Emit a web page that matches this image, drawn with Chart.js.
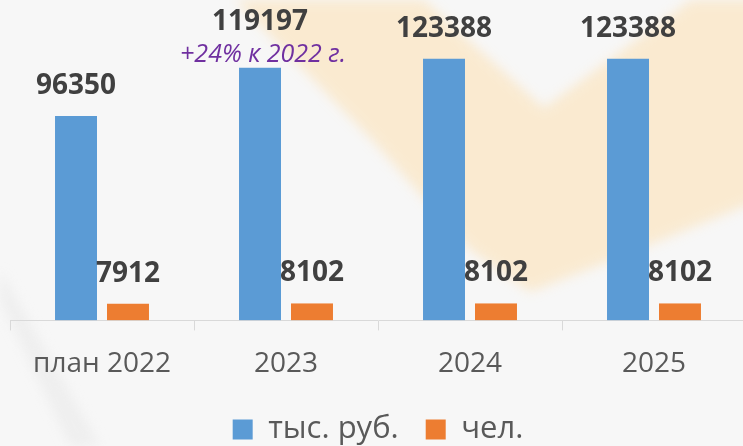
<!DOCTYPE html>
<html>
<head>
<meta charset="utf-8">
<script src="https://cdn.jsdelivr.net/npm/chart.js@4/dist/chart.umd.min.js"></script>
<style>
  html, body { margin: 0; padding: 0; overflow: hidden; }
  body { width: 743px; height: 446px; background: #f7f7f7; position: relative; }
  #bg { position: absolute; left: 0; top: 0; }
  #wrap { position: absolute; left: 0; top: 0; width: 746px; height: 446px; }
</style>
</head>
<body>
<!-- faint watermark behind the chart -->
<svg id="bg" width="743" height="446">
  <defs>
    <filter id="soft"><feGaussianBlur stdDeviation="6"/></filter>
  </defs>
  <polygon points="235,0 424,0 544,108 691,0 760,0 760,200 600,265 530,292 470,250 372,140" fill="#fbe6c4" opacity="0.75" filter="url(#soft)"/>
  <polygon points="0,270 0,300 70,446 100,446" fill="#e9e9e9" opacity="0.6" filter="url(#soft)"/>
</svg>
<div id="wrap"><canvas id="chart"></canvas></div>
<script>
var categories = ['план 2022', '2023', '2024', '2025'];
var rubValues = [96350, 119197, 123388, 123388];
var peopleValues = [7912, 8102, 8102, 8102];
var seriesNames = ['тыс. руб.', 'чел.'];
var note2023 = '+24% к 2022 г.';

var valueLabels = {
    id: 'valueLabels',
    afterDatasetsDraw: function(chart) {
        var ctx = chart.ctx;
        ctx.save();
        ctx.textAlign = 'center';
        ctx.textBaseline = 'middle';
        chart.data.datasets.forEach(function(ds, di) {
            var meta = chart.getDatasetMeta(di);
            meta.data.forEach(function(bar, i) {
                var lift = 30;
                if (di === 0 && i === 1) {
                    // growth note sits between the bar and its value
                    ctx.font = 'italic 25px "Open Sans"';
                    ctx.fillStyle = '#7030a0';
                    ctx.fillText(note2023, bar.x + 3, bar.y - 13);
                    lift = 45;
                }
                ctx.font = 'bold 28px "Open Sans"';
                ctx.fillStyle = '#404040';
                ctx.fillText(ds.data[i], bar.x, bar.y - lift);
            });
        });
        ctx.restore();
    }
};

var ctx = document.getElementById('chart').getContext('2d');
var chart = new Chart(ctx, {
    type: 'bar',
    data: {
        labels: categories,
        datasets: [{
            label: seriesNames[0],
            data: rubValues,
            backgroundColor: '#5b9bd5',
            borderColor: 'rgba(0,0,0,0)',
            borderWidth: {left: 5, right: 5, top: 0, bottom: 0},
            borderSkipped: false
        }, {
            label: seriesNames[1],
            data: peopleValues,
            backgroundColor: '#ed7d31',
            borderColor: 'rgba(0,0,0,0)',
            borderWidth: {left: 5, right: 5, top: 0, bottom: 0},
            borderSkipped: false
        }]
    },
    options: {
        responsive: true,
        maintainAspectRatio: false,
        animation: false,
        layout: { padding: {left: 10, right: 0, top: 0, bottom: -9} },
        datasets: { bar: { categoryPercentage: 0.565, barPercentage: 1 } },
        scales: {
            x: {
                grid: { offset: true, drawOnChartArea: false, drawTicks: true, tickLength: 10, color: '#d9d9d9' },
                border: { color: '#d9d9d9', width: 1 },
                ticks: { color: '#595959', font: { family: 'Open Sans', size: 28 }, padding: 17 },
                afterFit: function(scale) { scale.height -= 11; }
            },
            y: { display: false, min: 0, max: 151000 }
        },
        plugins: {
            legend: {
                position: 'bottom',
                labels: {
                    color: '#595959',
                    font: { family: 'Open Sans', size: 31 },
                    boxWidth: 20,
                    boxHeight: 20,
                    padding: 27
                }
            },
            tooltip: { enabled: false }
        }
    },
    plugins: [valueLabels]
});
</script>
</body>
</html>
